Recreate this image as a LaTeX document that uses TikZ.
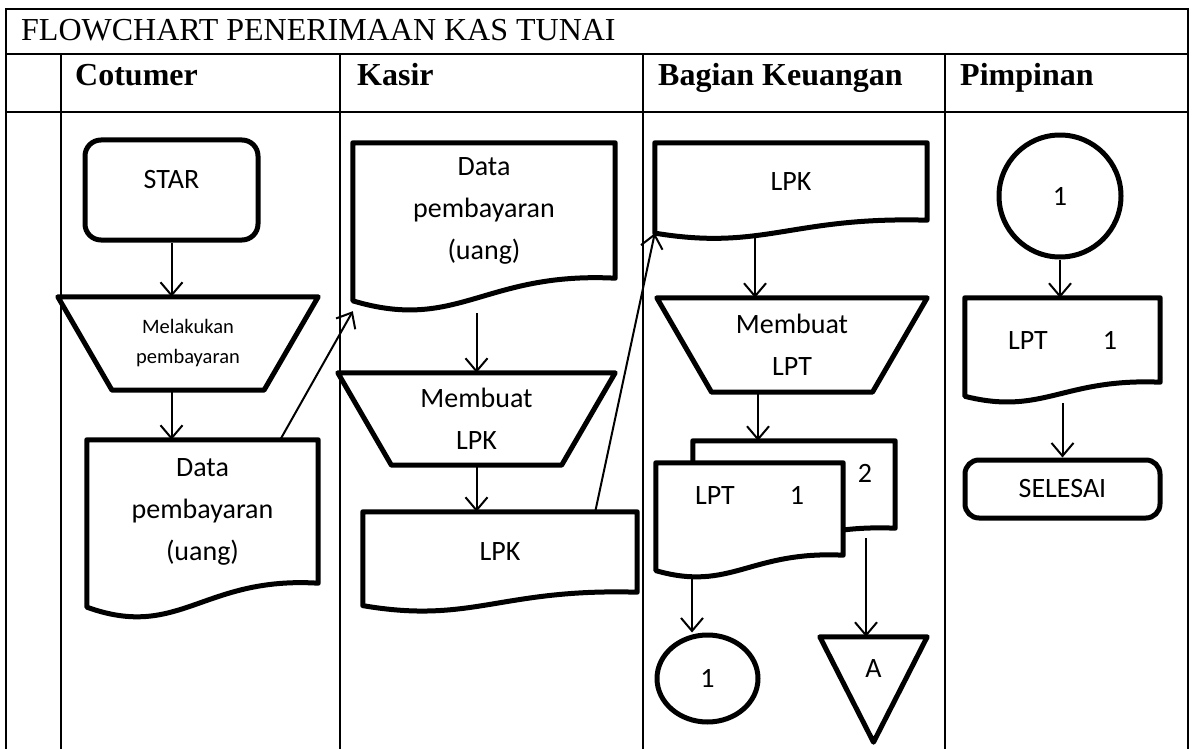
\documentclass[tikz,border=0pt]{standalone}
\usepackage{fontspec}
\setmainfont{Liberation Serif}
\newfontfamily\calibri{Carlito}
\usepackage{tikz}
\usetikzlibrary{arrows.meta,positioning,calc,shapes.geometric}

% document symbol: body is the node, wavy bottom below it
\newcommand{\docshape}[2][]{%
  \draw[outline,#1] let \p1=(#2.north west), \p2=(#2.south east),
    \n1={\x2-\x1}, \n2={\y1-\y2} in
    (\p1) -- (\x2,\y1) -- (\p2)
    .. controls (\x2-0.5*\n1,\y2+0.05*\n2) and (\x1+0.4*\n1,\y2-0.4*\n2) ..
    (\x1,\y2-0.167*\n2) -- cycle;}
% manual operation
\newcommand{\manualop}[1]{%
  \draw[outline] let \p1=(#1.north west), \p2=(#1.south east),
    \n2={0.58*(\y1-\y2)} in
    (\p1) -- (\x2,\y1) -- (\x2-\n2,\y2) -- (\x1+\n2,\y2) -- cycle;}
% off-line storage
\newcommand{\storage}[1]{%
  \draw[outline] (#1.north west) -- (#1.north east) -- (#1.south) -- cycle;}

\begin{document}
\begin{tikzpicture}[x=1pt,y=-1pt,>={Straight Barb[length=13pt,width=22pt]},
  lift/.style={text height=0pt,text depth=#1}]
\tikzstyle{grid}=[line width=2pt]
\tikzstyle{outline}=[line width=5pt, line join=round]
\tikzstyle{arr}=[->, line width=2pt]
\tikzstyle{head}=[font=\fontsize{32}{38}\selectfont, inner sep=0pt]
\tikzstyle{lane}=[font=\bfseries\fontsize{32}{38}\selectfont, inner sep=0pt]
\tikzstyle{txt}=[font=\calibri\fontsize{28}{42}\selectfont, align=center, inner sep=0pt]
\tikzstyle{smalltxt}=[font=\calibri\fontsize{20.5}{30}\selectfont, align=center, inner sep=0pt]

\useasboundingbox (0,0) rectangle (1192,749);

% table
\draw[grid] (6,749) -- (6,9) -- (1188,9) -- (1188,749);
\draw[grid] (6,54) -- (1188,54);
\draw[grid] (6,112) -- (1188,112);
\foreach \x in {61,340,643,945} \draw[grid] (\x,54) -- (\x,749);

\node[head, anchor=base west] (title) at (21,41) {FLOWCHART PENERIMAAN KAS TUNAI};
\node[lane, anchor=base west] (cust) at (75,86) {Cotumer};
\node[lane, anchor=base west] (kasir) at (357,86) {Kasir};
\node[lane, anchor=base west] (keu) at (658,86) {Bagian Keuangan};
\node[lane, anchor=base west] (boss) at (960,86) {Pimpinan};

% Cotumer
\node[txt, draw, outline, rounded corners=16pt, minimum width=173pt, minimum height=100pt, lift=2pt] (star) at (171.5,190) {STAR};
\node[smalltxt, minimum width=260pt, minimum height=93pt] (pay) at (188,343.5) {Melakukan\\pembayaran};
\manualop{pay}
\node[txt, minimum width=231pt, minimum height=143pt] (payDoc) at (202.5,511.5) {Data\\pembayaran\\(uang)};
\docshape{payDoc}

% Kasir
\node[txt, minimum width=262pt, minimum height=135pt] (kasDoc) at (484,210.5) {Data\\pembayaran\\(uang)};
\docshape{kasDoc}
\node[txt, minimum width=277pt, minimum height=92pt] (lpkOp) at (476.5,419) {Membuat\\LPK};
\manualop{lpkOp}
\node[txt, minimum width=274pt, minimum height=80pt] (lpkDoc) at (500,552) {LPK};
\docshape{lpkDoc}

% Bagian Keuangan
\node[txt, minimum width=272pt, minimum height=77pt] (bagDoc) at (791,181.5) {LPK};
\docshape{bagDoc}
\node[txt, minimum width=270pt, minimum height=94pt] (lptOp) at (792,345) {Membuat\\LPT};
\manualop{lptOp}
\node[txt, minimum width=202pt, minimum height=87pt] (lptCopy) at (794,484.5) {};
\docshape[fill=white]{lptCopy}
\node[txt] (copyNo) at (865,473) {2};
\node[txt, minimum width=187pt, minimum height=92pt] (lptOrig) at (749.5,509) {};
\docshape[fill=white]{lptOrig}
\node[txt, lift=10pt] (lptText) at (lptOrig.center) {LPT\hspace{55pt}1};
\node[txt, draw, outline, ellipse, minimum width=101pt, minimum height=87pt] (con1) at (707.5,678.5) {1};
\node[txt, minimum width=107pt, minimum height=105pt, lift=25pt] (arsip) at (873.5,689.5) {A};
\storage{arsip}

% Pimpinan
\node[txt, draw, outline, circle, minimum size=122pt] (con1b) at (1060,196) {1};
\node[txt, minimum width=195pt, minimum height=84pt] (pimDoc) at (1062.5,340) {LPT\hspace{55pt}1};
\docshape{pimDoc}
\node[txt, draw, outline, rounded corners=14pt, minimum width=195pt, minimum height=58pt] (done) at (1062.5,489) {SELESAI};

% arrows
\draw[arr] (star.south) -- (star.south |- pay.north);
\draw[arr] (star.south |- pay.south) -- (star.south |- payDoc.north);
\draw[arr] ([xshift=-38pt]payDoc.north east) -- ([yshift=-33pt]kasDoc.south west);
\draw[arr] ([yshift=-35pt]lpkOp.north |- kasDoc.south) -- (lpkOp.north);
\draw[arr] (lpkOp.south) -- (lpkOp.south |- lpkDoc.north);
\draw[arr] ([xshift=-42pt]lpkDoc.north east) -- ([yshift=-13pt]bagDoc.south west);
\draw[arr] ([xshift=-36pt,yshift=-18pt]bagDoc.south) -- ([xshift=-36pt]bagDoc.south |- lptOp.north);
\draw[arr] ([xshift=-34pt]lptOp.south) -- ([xshift=-34pt]lptOp.south |- lptCopy.north);
\draw[arr] ([xshift=-57.5pt,yshift=-20pt]lptOrig.south) -- ([xshift=-57.5pt]lptOrig.south |- con1.north);
\draw[arr] ([xshift=72pt,yshift=-10pt]lptCopy.south) -- ([xshift=72pt]lptCopy.south |- arsip.north);
\draw[arr] (con1b.south) -- (con1b.south |- pimDoc.north);
\draw[arr] ([yshift=-21pt]pimDoc.south) -- (pimDoc.south |- done.north);
\end{tikzpicture}
\end{document}
